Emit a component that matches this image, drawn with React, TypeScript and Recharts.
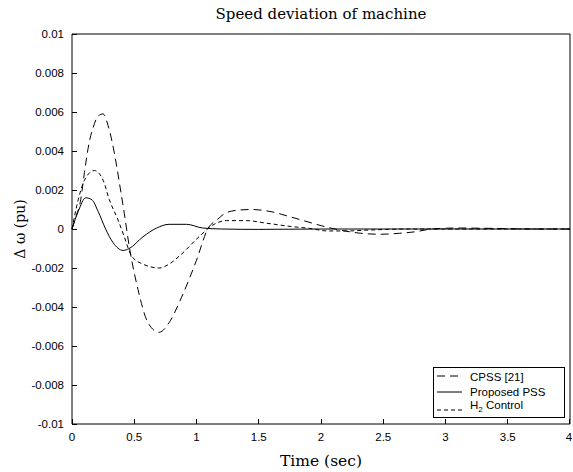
import { Legend, Line, LineChart, XAxis, YAxis } from "recharts";

// ── data ────────────────────────────────────────────────────────────────────

const xTicks = [0, 0.5, 1, 1.5, 2, 2.5, 3, 3.5, 4];
const yTicks = [-0.01, -0.008, -0.006, -0.004, -0.002, 0, 0.002, 0.004, 0.006, 0.008, 0.01];

// CPSS [21]
const cpssT = [0, 0.03, 0.07, 0.1, 0.14, 0.17, 0.21, 0.25, 0.29, 0.34, 0.39, 0.42, 0.46, 0.53, 0.61, 0.7, 0.78, 0.88, 1.0, 1.09, 1.17, 1.24, 1.34, 1.44, 1.59, 1.75, 1.93, 2.03, 2.15, 2.32, 2.48, 2.63, 2.76, 2.89, 3.1, 3.4, 3.7, 4.0];
const cpssV = [0, 0.0006, 0.0015, 0.0029, 0.0045, 0.0052, 0.0058, 0.0059, 0.0053, 0.0039, 0.002, 0.0008, -0.0009, -0.0031, -0.0048, -0.0053, -0.0048, -0.0035, -0.0016, 0, 0.0005, 0.00084, 0.00097, 0.001, 0.0009, 0.00063, 0.0003, 0.00012, -0.00005, -0.00022, -0.00027, -0.00022, -0.00014, 0, 0.00005, 0.00003, 0, 0];

// Proposed PSS
const pssT = [0, 0.05, 0.11, 0.16, 0.21, 0.27, 0.33, 0.41, 0.46, 0.57, 0.68, 0.78, 0.92, 1.05, 1.2, 1.5, 2.0, 2.5, 3.0, 3.5, 4.0];
const pssV = [0, 0.0009, 0.0016, 0.0015, 0.0009, 0, -0.0007, -0.0011, -0.001, -0.0004, 0.00005, 0.00024, 0.00024, 0.00005, 0, -0.00002, 0, 0, 0, 0, 0];

// H2 Control
const h2T = [0, 0.05, 0.1, 0.18, 0.25, 0.3, 0.37, 0.42, 0.48, 0.57, 0.7, 0.78, 0.86, 1.02, 1.13, 1.24, 1.4, 1.56, 1.77, 1.91, 2.05, 2.2, 2.4, 2.7, 3.0, 3.5, 4.0];
const h2V = [0, 0.0015, 0.0025, 0.003, 0.0025, 0.0015, 0.00046, -0.0004, -0.0014, -0.0018, -0.002, -0.0018, -0.0014, -0.0004, 0.0002, 0.00043, 0.00043, 0.0003, 0.00012, 0.00003, -0.0001, -0.0001, -0.00005, 0, 0, 0, 0];

const toRows = (ts: number[], vs: number[]) => ts.map((t, i) => ({ t, v: vs[i] }));

const series = [
  { name: "CPSS [21]", data: toRows(cpssT, cpssV), dash: "8 5" },
  { name: "Proposed PSS", data: toRows(pssT, pssV), dash: undefined },
  { name: "H2 Control", data: toRows(h2T, h2V), dash: "4 3" },
];

// ── styles ──────────────────────────────────────────────────────────────────

const sans = "'Liberation Sans', Arial, sans-serif";
const serif = "'DejaVu Serif', serif";
const TICK = 5; // inward tick length
const black = { stroke: "#000" };

// ── ticks: recharts hands us the point on the axis line (tickSize=0, tickMargin=0)

interface TickProps {
  x?: number;
  y?: number;
  payload?: { value: number };
}

const BottomTick = ({ x = 0, y = 0, payload }: TickProps) => (
  <g>
    <line x1={x} x2={x} y1={y} y2={y - TICK} stroke="#000" shapeRendering="crispEdges" />
    <text x={x} y={y + 17} textAnchor="middle" fontSize={11.5} fontFamily={sans} fill="#000">
      {String(payload?.value)}
    </text>
  </g>
);
const TopTick = ({ x = 0, y = 0 }: TickProps) => (
  <line x1={x} x2={x} y1={y} y2={y + TICK} stroke="#000" shapeRendering="crispEdges" />
);
const LeftTick = ({ x = 0, y = 0, payload }: TickProps) => (
  <g>
    <line x1={x} x2={x + TICK} y1={y} y2={y} stroke="#000" shapeRendering="crispEdges" />
    <text x={x - 8} y={y + 4} textAnchor="end" fontSize={11.5} fontFamily={sans} fill="#000">
      {String(payload?.value)}
    </text>
  </g>
);
const RightTick = ({ x = 0, y = 0 }: TickProps) => (
  <line x1={x} x2={x - TICK} y1={y} y2={y} stroke="#000" shapeRendering="crispEdges" />
);

// MATLAB-style legend box
function LegendBox() {
  const rows = [9, 25, 43];
  return (
    <svg width={132} height={51} style={{ display: "block" }}>
      <rect x={0.5} y={0.5} width={131} height={50} fill="#fff" stroke="#000" />
      {series.map((s, i) => (
        <line
          key={s.name}
          x1={4}
          x2={29}
          y1={rows[i]}
          y2={rows[i]}
          stroke="#000"
          strokeDasharray={s.dash}
        />
      ))}
      <g fontFamily={sans} fontSize={11.5} fill="#000">
        <text x={37} y={13.5}>CPSS [21]</text>
        <text x={37} y={28.5}>Proposed PSS</text>
        <text x={37} y={41.5}>
          H<tspan fontSize={8} dy={3}>2</tspan>
          <tspan dy={-3}> Control</tspan>
        </text>
      </g>
    </svg>
  );
}

export default function App() {
  return (
    <div style={{ position: "absolute", left: 0, top: 0, background: "#fff" }}>
      <LineChart width={573} height={472} margin={{ top: 33, right: 2, bottom: 18, left: 12 }}>
        <XAxis
          dataKey="t"
          type="number"
          domain={[0, 4]}
          ticks={xTicks}
          height={30}
          allowDuplicatedCategory={false}
          axisLine={black}
          tickLine={false}
          tickSize={0}
          tickMargin={0}
          tick={<BottomTick />}
          label={{ value: "Time (sec)", position: "bottom", offset: 1, fill: "#000", fontSize: 15.5, fontFamily: serif }}
        />
        <XAxis
          xAxisId="top"
          orientation="top"
          type="number"
          domain={[0, 4]}
          ticks={xTicks}
          height={1}
          axisLine={black}
          tickLine={false}
          tickSize={0}
          tickMargin={0}
          tick={<TopTick />}
          label={{ value: "Speed deviation of machine", position: "top", offset: 14, fill: "#000", fontSize: 15, fontFamily: serif }}
        />
        <YAxis
          type="number"
          domain={[-0.01, 0.01]}
          ticks={yTicks}
          width={60}
          axisLine={black}
          tickLine={false}
          tickSize={0}
          tickMargin={0}
          tick={<LeftTick />}
          label={{
            value: "Δ ω (pu)",
            angle: -90,
            position: "insideLeft",
            offset: 8,
            fill: "#000",
            fontSize: 14,
            fontFamily: serif,
            style: { textAnchor: "middle" },
          }}
        />
        <YAxis
          yAxisId="right"
          orientation="right"
          type="number"
          domain={[-0.01, 0.01]}
          ticks={yTicks}
          width={1}
          axisLine={black}
          tickLine={false}
          tickSize={0}
          tickMargin={0}
          tick={<RightTick />}
        />
        {series.map((s) => (
          <Line
            key={s.name}
            name={s.name}
            data={s.data}
            dataKey="v"
            type="monotone"
            stroke="#000"
            strokeWidth={1}
            strokeDasharray={s.dash}
            dot={false}
            activeDot={false}
            isAnimationActive={false}
          />
        ))}
        <Legend
          layout="vertical"
          align="center"
          verticalAlign="middle"
          content={() => <LegendBox />}
          wrapperStyle={{ left: 433, top: 367, width: 132, height: 51 }}
        />
      </LineChart>
    </div>
  );
}
